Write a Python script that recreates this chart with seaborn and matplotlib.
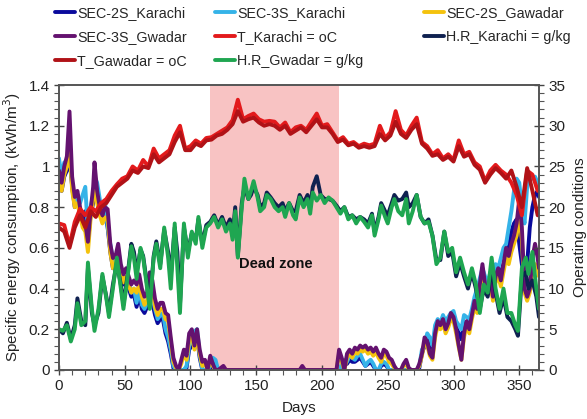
import matplotlib
matplotlib.use("Agg")
import matplotlib.pyplot as plt
from matplotlib.ticker import MultipleLocator
import seaborn as sns
import pandas as pd

sns.set_theme(style="white")
plt.rcParams["font.family"] = ["Liberation Sans", "DejaVu Sans"]

# ---------------- specific energy consumption (kWh/m3) ----------------
sec_days = [
    0, 2, 4, 6, 8, 10, 12, 14, 16, 18,
    20, 22, 24, 26, 27, 29, 31, 33, 35, 37,
    39, 41, 43, 45, 47, 49, 51, 53, 55, 57,
    59, 61, 63, 65, 67, 69, 71, 73, 75, 77,
    79, 81, 83, 85, 87, 89, 91, 93, 95, 97,
    99, 101, 103, 105, 107, 109, 111, 113, 115, 117,
    119, 121, 125, 127, 183, 185, 187, 211, 213, 215,
    217, 219, 221, 223, 225, 227, 229, 231, 233, 235,
    237, 239, 241, 243, 245, 247, 249, 251, 253, 255,
    257, 260, 262, 264, 266, 268, 272, 274, 276, 278,
    280, 282, 284, 286, 288, 290, 292, 294, 296, 298,
    300, 302, 304, 306, 308, 310, 312, 314, 316, 318,
    320, 322, 324, 326, 328, 330, 332, 334, 336, 338,
    340, 342, 344, 346, 348, 350, 352, 354, 356, 358,
    360, 362, 364, 365,
]

sec2s_karachi = [
    0.90, 0.88, 0.95, 0.98, 1.04, 0.90, 0.80, 0.84, 0.78, 0.76,
    0.78, 0.62, 0.76, 0.82, 0.90, 0.86, 0.78, 0.74, 0.76, 0.70,
    0.58, 0.50, 0.50, 0.57, 0.47, 0.42, 0.42, 0.40, 0.36, 0.37,
    0.31, 0.37, 0.30, 0.28, 0.31, 0.37, 0.33, 0.27, 0.23, 0.25,
    0.25, 0.18, 0.14, 0.08, 0.01, 0.00, 0.00, 0.00, 0.00, 0.01,
    0.10, 0.12, 0.15, 0.16, 0.06, 0.00, 0.00, 0.00, 0.01, 0.04,
    0.03, 0.00, 0.00, 0.00, 0.00, 0.00, 0.00, 0.00, 0.00, 0.02,
    0.03, 0.03, 0.05, 0.04, 0.04, 0.05, 0.06, 0.04, 0.02, 0.03,
    0.04, 0.02, 0.00, 0.00, 0.02, 0.03, 0.02, 0.00, 0.00, 0.00,
    0.00, 0.00, 0.00, 0.00, 0.00, 0.00, 0.00, 0.01, 0.08, 0.12,
    0.15, 0.13, 0.10, 0.19, 0.22, 0.21, 0.24, 0.21, 0.23, 0.26,
    0.26, 0.21, 0.18, 0.15, 0.23, 0.23, 0.22, 0.27, 0.32, 0.35,
    0.40, 0.46, 0.40, 0.38, 0.43, 0.38, 0.45, 0.45, 0.48, 0.52,
    0.56, 0.60, 0.68, 0.72, 0.74, 0.62, 0.52, 0.45, 0.52, 0.70,
    0.80, 0.86, 0.88, 0.85,
]

sec3s_karachi = [
    1.04, 0.95, 1.02, 1.00, 1.08, 0.92, 0.82, 0.85, 0.82, 0.86,
    0.90, 0.68, 0.80, 0.86, 0.95, 0.92, 0.84, 0.78, 0.82, 0.70,
    0.62, 0.54, 0.52, 0.60, 0.50, 0.45, 0.44, 0.43, 0.38, 0.40,
    0.33, 0.40, 0.32, 0.30, 0.33, 0.40, 0.36, 0.30, 0.25, 0.27,
    0.28, 0.20, 0.16, 0.10, 0.02, 0.00, 0.00, 0.00, 0.00, 0.02,
    0.12, 0.14, 0.19, 0.20, 0.08, 0.00, 0.00, 0.00, 0.02, 0.06,
    0.05, 0.00, 0.00, 0.00, 0.00, 0.00, 0.00, 0.00, 0.00, 0.03,
    0.05, 0.04, 0.07, 0.06, 0.05, 0.07, 0.08, 0.05, 0.02, 0.04,
    0.05, 0.03, 0.00, 0.00, 0.03, 0.04, 0.03, 0.00, 0.00, 0.00,
    0.00, 0.00, 0.00, 0.00, 0.00, 0.00, 0.00, 0.02, 0.10, 0.12,
    0.18, 0.16, 0.12, 0.22, 0.25, 0.23, 0.27, 0.24, 0.26, 0.28,
    0.29, 0.24, 0.22, 0.20, 0.27, 0.26, 0.25, 0.30, 0.36, 0.40,
    0.45, 0.50, 0.46, 0.43, 0.48, 0.45, 0.52, 0.50, 0.55, 0.60,
    0.62, 0.70, 0.78, 0.88, 0.94, 0.92, 0.80, 0.72, 0.90, 0.96,
    0.94, 0.95, 0.92, 0.90,
]

sec2s_gawadar = [
    0.92, 0.88, 0.96, 1.00, 1.10, 0.88, 0.80, 0.82, 0.76, 0.70,
    0.68, 0.58, 0.74, 0.84, 0.92, 0.82, 0.76, 0.72, 0.75, 0.74,
    0.58, 0.50, 0.52, 0.58, 0.48, 0.43, 0.46, 0.42, 0.38, 0.40,
    0.38, 0.42, 0.36, 0.32, 0.34, 0.43, 0.40, 0.31, 0.27, 0.30,
    0.30, 0.25, 0.24, 0.14, 0.04, 0.01, 0.00, 0.03, 0.08, 0.05,
    0.15, 0.17, 0.10, 0.17, 0.08, 0.02, 0.03, 0.00, 0.05, 0.02,
    0.00, 0.00, 0.01, 0.00, 0.00, 0.01, 0.00, 0.00, 0.08, 0.04,
    0.00, 0.06, 0.08, 0.06, 0.09, 0.08, 0.10, 0.09, 0.10, 0.08,
    0.09, 0.07, 0.09, 0.06, 0.04, 0.08, 0.07, 0.04, 0.03, 0.01,
    0.00, 0.00, 0.02, 0.03, 0.00, 0.00, 0.00, 0.02, 0.07, 0.14,
    0.12, 0.07, 0.05, 0.16, 0.22, 0.20, 0.23, 0.18, 0.21, 0.25,
    0.24, 0.18, 0.11, 0.05, 0.16, 0.22, 0.18, 0.25, 0.31, 0.28,
    0.38, 0.48, 0.40, 0.37, 0.42, 0.34, 0.43, 0.46, 0.41, 0.48,
    0.55, 0.52, 0.58, 0.62, 0.66, 0.76, 0.64, 0.38, 0.34, 0.38,
    0.48, 0.52, 0.50, 0.46,
]

sec3s_gwadar = [
    0.98, 0.92, 1.00, 1.05, 1.27, 0.95, 0.85, 0.88, 0.80, 0.74,
    0.72, 0.63, 0.78, 0.90, 1.02, 0.88, 0.80, 0.76, 0.80, 0.79,
    0.62, 0.55, 0.56, 0.62, 0.52, 0.47, 0.50, 0.46, 0.42, 0.44,
    0.42, 0.47, 0.40, 0.36, 0.38, 0.48, 0.44, 0.35, 0.30, 0.33,
    0.33, 0.28, 0.27, 0.16, 0.06, 0.02, 0.00, 0.05, 0.10, 0.07,
    0.18, 0.20, 0.12, 0.20, 0.10, 0.04, 0.05, 0.00, 0.07, 0.03,
    0.00, 0.00, 0.02, 0.00, 0.00, 0.02, 0.00, 0.00, 0.10, 0.06,
    0.00, 0.08, 0.10, 0.08, 0.11, 0.10, 0.12, 0.11, 0.12, 0.10,
    0.11, 0.09, 0.11, 0.08, 0.06, 0.10, 0.09, 0.06, 0.05, 0.02,
    0.00, 0.00, 0.03, 0.05, 0.01, 0.00, 0.00, 0.03, 0.08, 0.16,
    0.14, 0.08, 0.06, 0.18, 0.24, 0.22, 0.25, 0.20, 0.23, 0.28,
    0.26, 0.20, 0.12, 0.05, 0.18, 0.24, 0.20, 0.27, 0.34, 0.30,
    0.42, 0.52, 0.42, 0.40, 0.45, 0.36, 0.46, 0.50, 0.44, 0.52,
    0.60, 0.56, 0.62, 0.66, 0.72, 0.84, 0.70, 0.40, 0.36, 0.40,
    0.55, 0.62, 0.55, 0.50,
]

# ---------------- air temperature (oC) ----------------
temp_days = [
    0, 4, 8, 12, 16, 20, 24, 28, 32, 36,
    40, 44, 48, 52, 56, 60, 64, 68, 72, 76,
    80, 84, 88, 92, 96, 100, 104, 108, 112, 116,
    120, 124, 128, 132, 136, 140, 144, 148, 152, 156,
    160, 164, 168, 172, 176, 180, 184, 188, 192, 196,
    200, 204, 208, 212, 216, 220, 224, 228, 232, 236,
    240, 244, 248, 252, 256, 260, 264, 268, 272, 276,
    280, 284, 288, 292, 296, 300, 304, 308, 312, 316,
    320, 324, 328, 332, 336, 340, 344, 348, 352, 356,
    360, 364,
]

t_karachi = [
    18.0, 17.8, 15.3, 18.2, 19.8, 19.0, 20.0, 19.5, 20.5, 21.0,
    22.0, 22.8, 23.5, 23.8, 25.0, 24.5, 25.8, 25.0, 27.2, 26.0,
    26.5, 27.0, 28.8, 30.0, 27.2, 27.5, 28.2, 27.8, 28.5, 28.6,
    29.0, 29.4, 29.8, 30.7, 33.2, 30.8, 31.2, 31.5, 30.8, 30.5,
    30.6, 30.5, 29.8, 30.4, 29.2, 29.8, 30.0, 29.5, 30.5, 31.5,
    30.0, 30.2, 29.2, 28.2, 28.6, 27.8, 28.0, 27.5, 27.8, 27.6,
    27.8, 30.0, 28.5, 29.2, 31.8, 29.5, 28.8, 30.0, 31.0, 28.0,
    27.5, 26.5, 27.0, 26.0, 26.5, 25.8, 28.2, 26.5, 26.8, 25.5,
    25.0, 23.2, 24.5, 25.2, 24.5, 24.0, 23.0, 21.5, 19.0, 24.5,
    24.0, 22.0,
]

t_gawadar = [
    17.5, 17.0, 15.0, 17.5, 19.0, 17.5, 19.5, 18.8, 20.0, 20.5,
    21.5, 22.5, 23.0, 23.5, 24.5, 24.2, 25.0, 24.8, 26.5, 25.5,
    26.0, 26.5, 28.0, 29.2, 27.0, 27.0, 27.8, 27.5, 28.2, 28.3,
    28.8, 29.0, 29.5, 30.2, 31.8, 30.5, 30.8, 31.0, 30.4, 30.0,
    30.2, 30.0, 29.5, 30.0, 29.0, 29.4, 29.8, 29.2, 30.0, 30.8,
    29.8, 29.8, 29.0, 28.0, 28.3, 27.6, 27.8, 27.3, 27.5, 27.3,
    27.5, 29.0, 28.2, 28.8, 30.5, 29.0, 28.5, 29.5, 30.2, 27.8,
    27.2, 26.3, 26.5, 25.8, 26.2, 25.6, 27.5, 26.2, 26.5, 25.2,
    24.6, 23.0, 24.0, 24.8, 24.2, 23.5, 24.5, 22.5, 20.0, 24.8,
    22.0, 19.0,
]

# ---------------- humidity ratio (g/kg) ----------------
hr_days = [
    0, 3, 6, 9, 12, 14, 17, 20, 22, 25,
    27, 30, 33, 36, 38, 41, 44, 47, 49, 52,
    55, 57, 59, 62, 64, 67, 69, 72, 74, 77,
    80, 83, 85, 88, 90, 92, 95, 98, 101, 104,
    106, 109, 112, 115, 118, 121, 124, 127, 130, 132,
    134, 136, 139, 141, 144, 146, 148, 151, 153, 156,
    158, 161, 164, 167, 170, 172, 175, 178, 180, 183,
    186, 189, 191, 193, 196, 199, 202, 205, 208, 211,
    214, 217, 220, 223, 226, 229, 232, 235, 238, 240,
    243, 245, 248, 250, 253, 255, 258, 261, 264, 266,
    269, 272, 275, 278, 281, 284, 287, 290, 293, 296,
    299, 302, 305, 308, 311, 314, 317, 320, 323, 326,
    329, 332, 335, 338, 341, 344, 347, 349, 352, 355,
    357, 360, 363, 365,
]

hr_karachi = [
    5.0, 4.5, 5.8, 3.8, 5.5, 8.8, 6.0, 5.5, 12.5, 7.0,
    5.5, 7.0, 11.5, 9.0, 7.0, 10.5, 13.2, 10.5, 8.0, 11.5,
    15.5, 14.5, 12.0, 14.8, 14.0, 10.5, 8.0, 14.0, 15.8, 13.0,
    17.2, 14.5, 11.5, 17.5, 14.5, 8.0, 17.5, 14.5, 16.8, 16.0,
    18.5, 15.5, 17.8, 18.2, 19.0, 17.8, 18.8, 17.5, 18.5, 16.5,
    20.0, 14.0, 20.5, 22.5, 21.0, 21.5, 22.5, 21.5, 20.0, 20.5,
    21.8, 21.2, 20.5, 20.0, 20.5, 19.5, 20.5, 19.5, 19.5, 21.5,
    20.5, 21.5, 20.0, 22.5, 23.8, 21.5, 21.0, 21.0, 20.8, 20.2,
    19.5, 20.0, 18.8, 19.0, 18.5, 18.8, 18.5, 18.0, 19.2, 17.0,
    18.8, 20.5, 19.5, 19.0, 20.5, 21.5, 20.8, 21.0, 21.8, 20.0,
    20.5, 21.5, 18.8, 18.0, 18.5, 16.5, 13.5, 13.5, 17.0, 14.0,
    14.5, 11.5, 13.2, 11.5, 10.0, 12.0, 10.0, 7.5, 10.0, 9.0,
    12.5, 9.5, 7.0, 9.0, 6.5, 6.0, 5.0, 4.2, 11.5, 12.0,
    10.0, 11.0, 9.0, 6.5,
]

hr_gwadar = [
    5.0, 4.8, 5.5, 3.5, 5.0, 8.2, 5.5, 6.0, 13.2, 7.5,
    4.8, 7.5, 11.8, 8.8, 6.5, 10.0, 13.8, 10.0, 7.5, 11.2,
    15.2, 13.8, 11.2, 15.0, 13.8, 10.0, 7.5, 13.8, 15.5, 12.5,
    17.5, 13.8, 10.0, 18.0, 12.5, 7.0, 18.0, 13.8, 17.0, 15.5,
    18.8, 15.0, 17.5, 18.0, 18.8, 17.5, 18.5, 17.0, 18.0, 16.0,
    19.5, 13.8, 20.0, 23.5, 21.0, 22.0, 23.2, 21.2, 19.5, 20.0,
    21.5, 21.0, 20.0, 19.5, 20.0, 18.8, 20.5, 19.0, 18.5, 21.2,
    20.0, 21.0, 19.2, 21.8, 20.8, 21.5, 20.5, 21.2, 20.8, 20.0,
    19.2, 20.0, 18.5, 19.0, 18.0, 18.8, 18.2, 17.5, 19.0, 16.5,
    18.5, 20.2, 18.8, 18.0, 20.0, 21.0, 19.5, 19.0, 21.0, 18.0,
    19.5, 21.5, 18.8, 18.0, 18.2, 16.5, 13.0, 13.8, 17.0, 14.5,
    15.0, 12.0, 13.8, 12.0, 10.5, 12.5, 10.5, 7.0, 10.5, 9.5,
    13.8, 10.0, 7.5, 10.0, 7.0, 7.0, 5.5, 4.8, 12.5, 13.8,
    11.8, 14.5, 10.0, 7.5,
]

dead_zone = (115, 213)

sec_df = pd.DataFrame({
    "Days": sec_days,
    "SEC-2S_Karachi": sec2s_karachi,
    "SEC-3S_Karachi": sec3s_karachi,
    "SEC-2S_Gawadar": sec2s_gawadar,
    "SEC-3S_Gwadar": sec3s_gwadar,
})
temp_df = pd.DataFrame({"Days": temp_days, "T_Karachi": t_karachi,
                        "T_Gawadar": t_gawadar})
hr_df = pd.DataFrame({"Days": hr_days, "H.R_Karachi": hr_karachi,
                      "H.R_Gwadar": hr_gwadar})

colors = {
    "SEC-2S_Karachi": "#0a0a9c",
    "SEC-3S_Karachi": "#35b3e8",
    "SEC-2S_Gawadar": "#f4c20d",
    "SEC-3S_Gwadar": "#64126f",
    "T_Karachi": "#e31a1c",
    "H.R_Karachi": "#0f2150",
    "T_Gawadar": "#b01217",
    "H.R_Gwadar": "#1fa651",
}
lw = 2.8

fig = plt.figure(figsize=(5.87, 4.19), dpi=100)
ax = fig.add_axes([0.1005, 0.117, 0.8177, 0.680])
ax2 = ax.twinx()

ax.axvspan(*dead_zone, color="#f7b9b9", alpha=0.85, lw=0, zorder=0)
ax.text(sum(dead_zone) / 2 + 0.5, 0.52, "Dead zone", ha="center", va="center",
        fontsize=10.5, fontweight="bold", color="#111111", zorder=5)

for col in ["SEC-2S_Karachi", "SEC-3S_Karachi", "SEC-2S_Gawadar", "SEC-3S_Gwadar"]:
    sns.lineplot(data=sec_df, x="Days", y=col, ax=ax, color=colors[col],
                 lw=lw, legend=False, zorder=2)

sns.lineplot(data=temp_df, x="Days", y="T_Karachi", ax=ax2,
             color=colors["T_Karachi"], lw=lw, legend=False)
sns.lineplot(data=hr_df, x="Days", y="H.R_Karachi", ax=ax2,
             color=colors["H.R_Karachi"], lw=lw, legend=False)
sns.lineplot(data=temp_df, x="Days", y="T_Gawadar", ax=ax2,
             color=colors["T_Gawadar"], lw=lw, legend=False)
sns.lineplot(data=hr_df, x="Days", y="H.R_Gwadar", ax=ax2,
             color=colors["H.R_Gwadar"], lw=lw, legend=False)

# axes ranges and ticks
ax.set_xlim(0, 365)
ax.set_ylim(0, 1.4)
ax2.set_ylim(0, 35)
ax.xaxis.set_major_locator(MultipleLocator(50))
ax.xaxis.set_minor_locator(MultipleLocator(10))
ax.yaxis.set_minor_locator(MultipleLocator(0.04))
ax2.yaxis.set_major_locator(MultipleLocator(5))
ax2.yaxis.set_minor_locator(MultipleLocator(1))
ax.set_yticks([0, 0.2, 0.4, 0.6, 0.8, 1.0, 1.2, 1.4])
ax.set_yticklabels(["0", "0.2", "0.4", "0.6", "0.8", "1", "1.2", "1.4"])

for a in (ax, ax2):
    a.tick_params(which="major", direction="inout", length=7, width=1,
                  color="#444444", labelsize=11, labelcolor="#222222", pad=3)
    a.tick_params(which="minor", direction="out", length=3.5, width=0.8,
                  color="#555555")
ax.tick_params(axis="x", which="both", bottom=True)
ax.tick_params(axis="y", which="both", left=True)
ax2.tick_params(axis="y", which="both", right=True)
for a in (ax, ax2):
    for s in a.spines.values():
        s.set_color("#555555")
        s.set_linewidth(1.2)

ax.set_xlabel("Days", fontsize=11, color="#222222", labelpad=6)
ax.set_ylabel("Specific energy consumption, (kWh/m$^3$)", fontsize=11,
              color="#222222", labelpad=4)
ax2.set_ylabel("Operating conditions", fontsize=11, color="#222222",
               labelpad=6)

# legend: three fixed-position columns, read row by row
legend_columns = [
    [("SEC-2S_Karachi", "SEC-2S_Karachi"), ("SEC-3S_Gwadar", "SEC-3S_Gwadar"),
     ("T_Gawadar", "T_Gawadar = oC")],
    [("SEC-3S_Karachi", "SEC-3S_Karachi"), ("T_Karachi", "T_Karachi = oC"),
     ("H.R_Gwadar", "H.R_Gwadar = g/kg")],
    [("SEC-2S_Gawadar", "SEC-2S_Gawadar"), ("H.R_Karachi", "H.R_Karachi = g/kg")],
]
column_x = [0.094, 0.366, 0.722]
for x0, entries in zip(column_x, legend_columns):
    handles = [plt.Line2D([], [], color=colors[k], lw=2.8) for k, _ in entries]
    fig.legend(handles, [t for _, t in entries], loc="upper left",
               bbox_to_anchor=(x0, 0.985), frameon=False, fontsize=10.3,
               handlelength=1.4, handletextpad=0.15, labelspacing=0.68,
               borderpad=0, borderaxespad=0)

fig.savefig("out.png", dpi=100)
